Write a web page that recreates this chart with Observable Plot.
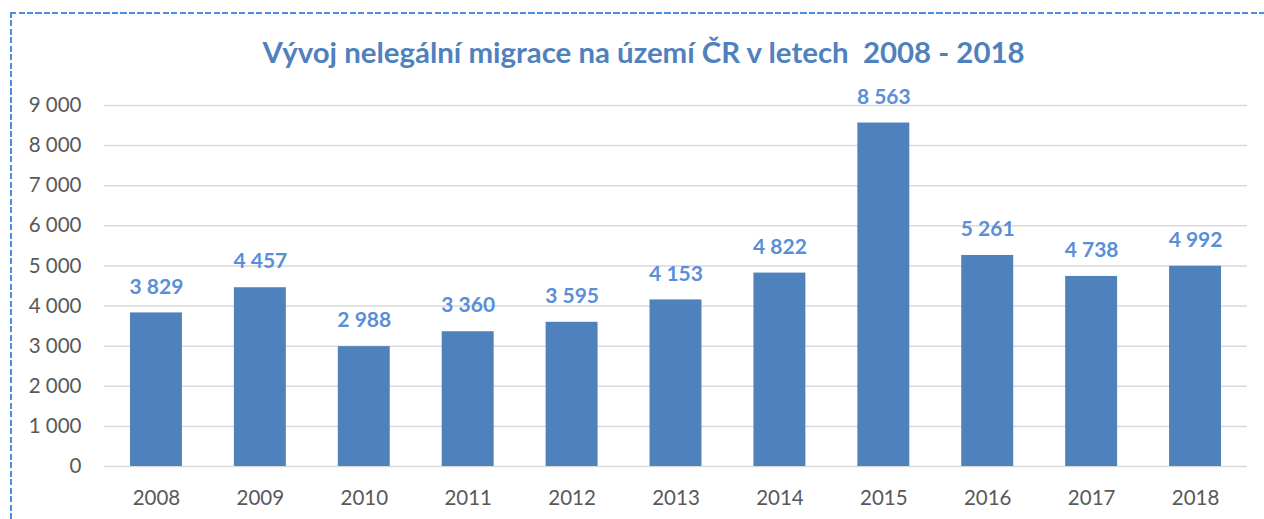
<!DOCTYPE html>
<html>
<head>
<meta charset="utf-8">
<script src="https://cdn.jsdelivr.net/npm/d3@7"></script>
<script src="https://cdn.jsdelivr.net/npm/@observablehq/plot@0.6"></script>
<style>
  html, body { margin: 0; padding: 0; background: #fff; width: 1264px; height: 519px; overflow: hidden; }
  #bleft { position: absolute; left: 9.5px; top: 12px; width: 2px; height: 520px;
           background: repeating-linear-gradient(to bottom, #4a8fe0 0 6px, transparent 6px 8.5px); }
  #btop { position: absolute; left: 9.5px; top: 12px; width: 1260px; height: 1.5px;
          background: repeating-linear-gradient(to right, #4a8fe0 0 6px, transparent 6px 8.5px); }
  #title { position: absolute; left: 0; top: 31px; width: 1287px; text-align: center;
           font-family: Lato, "Open Sans", sans-serif; font-weight: bold; font-size: 29.4px; color: #4f81bd; line-height: 42px; }
  #chart { position: absolute; left: 0; top: 80px; }
</style>
</head>
<body>
<div id="bleft"></div>
<div id="btop"></div>
<div id="title">Vývoj nelegální migrace na území ČR v letech&nbsp; 2008 - 2018</div>
<div id="chart"></div>
<script>
const years = ["2008","2009","2010","2011","2012","2013","2014","2015","2016","2017","2018"];
const values = [3829, 4457, 2988, 3360, 3595, 4153, 4822, 8563, 5261, 4738, 4992];
const yTicks = [0,1000,2000,3000,4000,5000,6000,7000,8000,9000];

const data = years.map((y, i) => ({year: y, value: values[i]}));
const loc = d3.formatLocale({decimal: ",", thousands: " ", grouping: [3], currency: ["", ""]});
const fmt = loc.format(",d");

const chart = Plot.plot({
  width: 1264,
  height: 439,
  marginTop: 25,
  marginBottom: 53,
  marginLeft: 104,
  marginRight: 17,
  style: {fontFamily: "Lato, 'Open Sans', sans-serif", fontSize: "20.5px", color: "#595959", background: "transparent"},
  x: {domain: years, paddingInner: 0.5, paddingOuter: 0.25, round: false, label: null, tickSize: 0, tickPadding: 24},
  y: {domain: [0, 9000], ticks: yTicks, tickFormat: fmt, label: null, tickSize: 0, tickPadding: 23},
  marks: [
    Plot.gridY(yTicks, {stroke: "#d9d9d9", strokeWidth: 1.5, strokeOpacity: 1}),
    Plot.barY(data, {x: "year", y: "value", fill: "#4f81bd"}),
    Plot.text(data, {x: "year", y: "value", text: d => fmt(d.value), dy: -26, fill: "#5a8fd8",
                     fontWeight: "bold", fontSize: 21, lineAnchor: "middle"})
  ]
});
document.getElementById("chart").appendChild(chart);
</script>
</body>
</html>
